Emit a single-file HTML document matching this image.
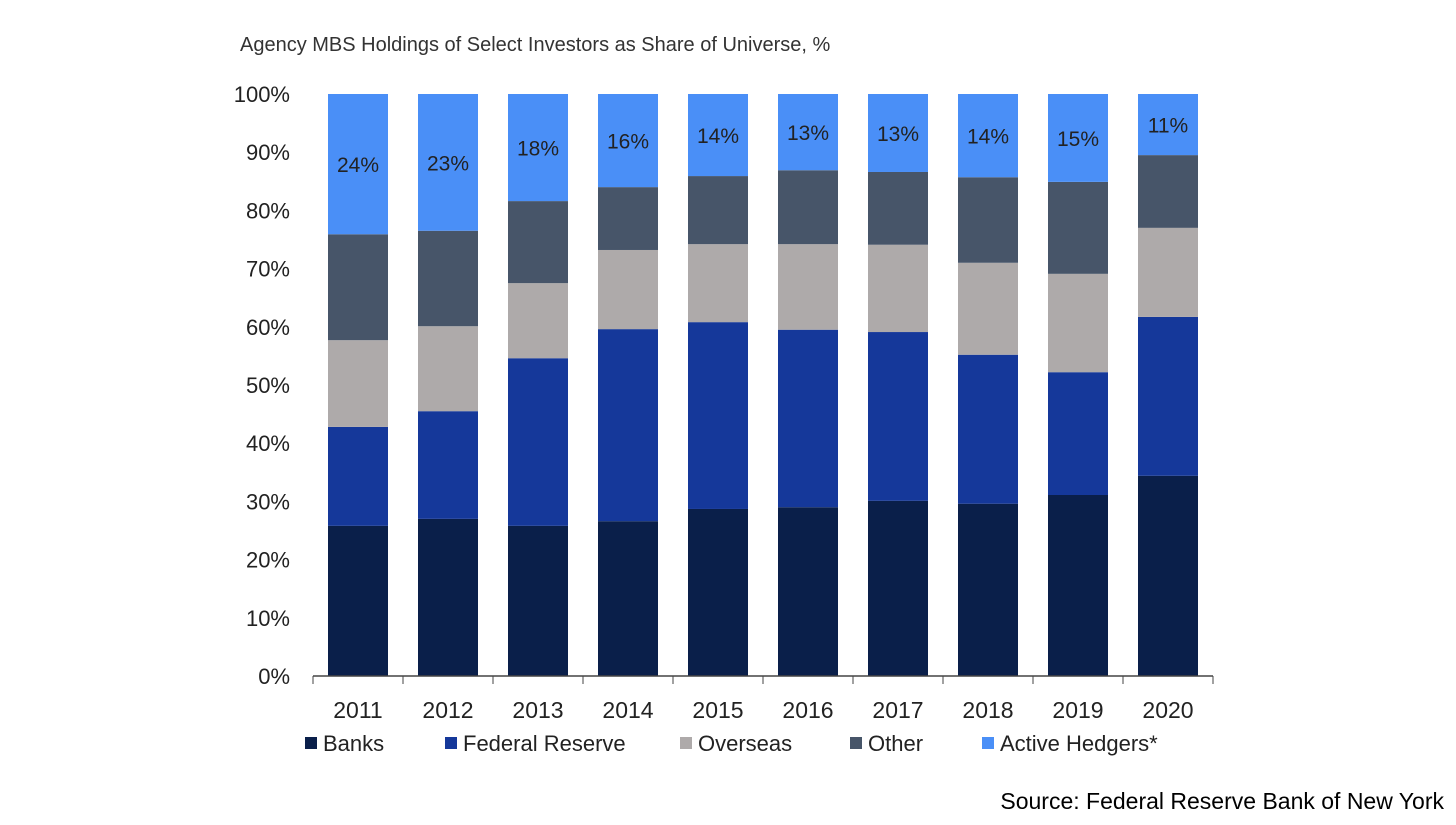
<!DOCTYPE html>
<html><head><meta charset="utf-8"><style>
body{margin:0;background:#fff;width:1456px;height:820px;overflow:hidden;font-family:"Liberation Sans",sans-serif}
</style></head><body>
<svg id="c" width="1456" height="820">
<text x="240" y="51" font-size="20" fill="#333">Agency MBS Holdings of Select Investors as Share of Universe, %</text>
<text x="1444" y="809" font-size="23" fill="#000" text-anchor="end">Source: Federal Reserve Bank of New York</text>
</svg>
<script>
const years=["2011","2012","2013","2014","2015","2016","2017","2018","2019","2020"];
const banks=[25.8,27.0,25.8,26.6,28.7,29.0,30.1,29.6,31.1,34.4];
const fed=[17.0,18.5,28.8,33.0,32.1,30.5,29.0,25.6,21.1,27.3];
const overseas=[14.9,14.6,12.9,13.6,13.4,14.7,15.0,15.8,16.9,15.3];
const other=[18.2,16.4,14.1,10.8,11.7,12.7,12.5,14.7,15.8,12.5];
const hedgers=[24.1,23.5,18.4,16.0,14.1,13.1,13.4,14.3,15.1,10.5];
const hedgerLabels=["24%","23%","18%","16%","14%","13%","13%","14%","15%","11%"];
const yTicks=[0,10,20,30,40,50,60,70,80,90,100];
const series=[["banks","Banks",banks,"#0a1f4a"],["federal-reserve","Federal Reserve",fed,"#15389a"],["overseas","Overseas",overseas,"#aeaaaa"],["other","Other",other,"#475569"],["active-hedgers","Active Hedgers*",hedgers,"#4a8ff7"]];
const svg=document.getElementById('c'),NS="http://www.w3.org/2000/svg";
const y0=676,y1=94,xL=313,step=90,bw=60;
const Y=v=>y0-(y0-y1)*v/100;
const X=i=>xL+step*i+step/2;
function mk(t,a,p){const e=document.createElementNS(NS,t);for(const k in a)e.setAttribute(k,a[k]);(p||svg).appendChild(e);return e;}
yTicks.forEach(t=>{const e=mk('text',{x:290,y:Y(t)+8,'font-size':22,fill:'#222','text-anchor':'end'});e.textContent=t+'%';

});
years.forEach((yr,i)=>{let cum=0;series.forEach(s=>{const v=s[2][i];const top=cum+v;
const r=mk('rect',{x:X(i)-bw/2,y:Y(Math.min(top,100)),width:bw,height:Y(cum)-Y(Math.min(top,100)),fill:s[3]});


cum=top;});
const l=mk('text',{x:X(i),y:Y(100-hedgers[i]/2)+8,'font-size':21,fill:'#222','text-anchor':'middle'});l.textContent=hedgerLabels[i];


const t=mk('text',{x:X(i),y:718,'font-size':23,fill:'#222','text-anchor':'middle'});t.textContent=yr;


const tk=mk('line',{x1:xL+step*i,x2:xL+step*i,y1:y0,y2:y0+8,stroke:'#444','stroke-width':1});

});
const tk=mk('line',{x1:xL+step*10,x2:xL+step*10,y1:y0,y2:y0+8,stroke:'#444'});


const ax=mk('line',{x1:xL,x2:xL+step*10,y1:y0,y2:y0,stroke:'#444','stroke-width':1.5});


const lx=[305,445,680,850,982];
series.forEach((s,i)=>{const g=mk('g',{});


mk('rect',{x:lx[i],y:737,width:12,height:12,fill:s[3]},g);
const t=mk('text',{x:lx[i]+18,y:751,'font-size':22,fill:'#222'},g);t.textContent=s[1];});
</script>
</body></html>
